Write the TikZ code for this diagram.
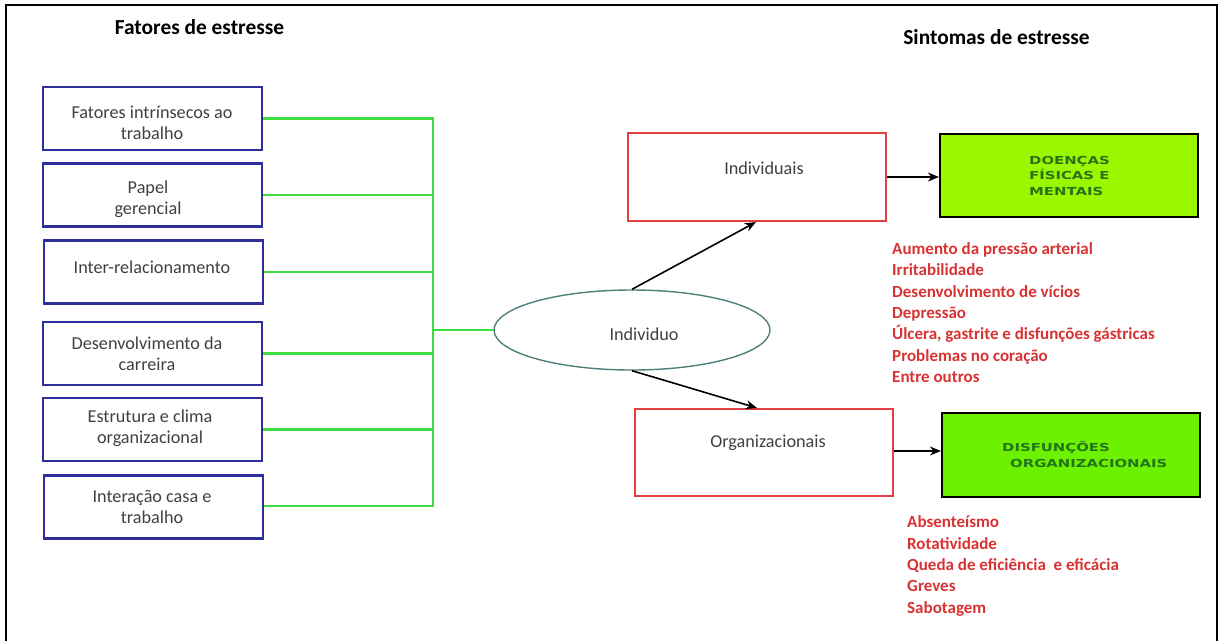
\documentclass[tikz,border=0pt]{standalone}
\usepackage{fontspec}
\setmainfont{Carlito}
\newfontfamily\djb[FakeStretch=1.35]{DejaVu Sans Bold}
\usetikzlibrary{arrows.meta,shapes.geometric,calc}
\definecolor{bluebox}{HTML}{2E2E9E}
\definecolor{linkgreen}{HTML}{3EDC3E}
\definecolor{redbox}{HTML}{E04040}
\definecolor{redtxt}{HTML}{D93232}
\definecolor{limeA}{HTML}{9AF700}
\definecolor{limeB}{HTML}{6CF200}
\definecolor{dkgreen}{HTML}{267318}
\definecolor{ellc}{HTML}{4F7F7C}
\definecolor{boxtxt}{HTML}{404040}
\begin{document}
\begin{tikzpicture}[x=1pt,y=-1pt,
  factor/.style={draw=bluebox,line width=2.6pt,minimum width=219pt,minimum height=63pt,inner sep=0pt},
  btext/.style={font=\fontsize{18.2}{21}\selectfont,text=boxtxt,align=center,inner sep=0pt},
  link/.style={draw=linkgreen,line width=2.6pt},
  redb/.style={draw=redbox,line width=2.2pt,inner sep=0pt},
  greenb/.style={draw=black,line width=2.2pt,inner sep=0pt},
  gtext/.style={font=\djb\fontsize{11}{15.5}\selectfont,text=dkgreen,align=left,inner sep=0pt},
  rlist/.style={font=\bfseries\fontsize{17}{21.4}\selectfont,text=redtxt,align=left,inner sep=0pt},
  title/.style={font=\bfseries\fontsize{21.4}{24}\selectfont,inner sep=0pt},
  arr/.style={draw=black,line width=1.6pt,-{Stealth[length=11pt,width=9pt]}}]
\useasboundingbox (0,0) rectangle (1219,641);
% frame (no bottom edge)
\draw[line width=2pt] (6,641) -- (6,5) -- (1217,5) -- (1217,641);
% titles
\node[title] (t1) at (199.5,27) {Fatores de estresse};
\node[title] (t2) at (996.5,37) {Sintomas de estresse};
% factor boxes
\node[factor] (f1) at (152.5,118.5) {};
\node[factor] (f2) at (152.5,195) {};
\node[factor] (f3) at (153.5,272) {};
\node[factor] (f4) at (152.5,353.5) {};
\node[factor] (f5) at (152.5,429.5) {};
\node[factor] (f6) at (153.5,507) {};
\node[btext] at (152,122.5) {Fatores intrínsecos ao\\trabalho};
\node[btext] at (148,199) {Papel\\gerencial};
\node[btext] at (152,267) {Inter-relacionamento};
\node[btext] at (147,354) {Desenvolvimento da\\carreira};
\node[btext] at (150,428.5) {Estrutura e clima\\organizacional};
\node[btext] at (152,506.5) {Interação casa e\\trabalho};
% ellipse
\node[ellipse,draw=ellc,line width=1.4pt,minimum width=276pt,minimum height=80pt,inner sep=0pt] (ind) at (632,330) {};
\node[btext] at (644,334) {Individuo};
% green connectors
\coordinate (trunkTop) at (433,118.5);
\coordinate (trunkBot) at (433,506);
\draw[link] (f1.east) -- (trunkTop) -- (trunkBot) -- (f6.east |- trunkBot);
\draw[link] (f2.east) -- (f2.east -| trunkTop);
\draw[link] (f3.east) -- (f3.east -| trunkTop);
\draw[link] (f4.east) -- (f4.east -| trunkTop);
\draw[link] (f5.east) -- (f5.east -| trunkTop);
\draw[link] (ind.west) -- (ind.west -| trunkTop);
% red boxes
\node[redb,minimum width=258pt,minimum height=88pt] (indiv) at (757,177) {};
\node[btext] at (764,168) {Individuais};
\node[redb,minimum width=258pt,minimum height=87pt] (org) at (764,452.5) {};
\node[btext] at (768,443) {Organizacionais};
% green boxes
\node[greenb,fill=limeA,minimum width=258pt,minimum height=83pt] (doen) at (1069,175.5) {};
\node[gtext,anchor=west] at (1029,175.5) {DOENÇAS\\FÍSICAS E\\MENTAIS};
\node[greenb,fill=limeB,minimum width=258pt,minimum height=84pt] (disf) at (1071,455) {};
\node[gtext,anchor=west] at (1002,447) {DISFUNÇÕES};
\node[gtext,anchor=west] at (1010,463) {ORGANIZACIONAIS};
% arrows
\coordinate (orgE) at ([yshift=1.5pt]org.east);
\draw[arr] (ind.north) -- ([xshift=129pt]indiv.south west);
\draw[arr] (ind.south) -- ([xshift=123pt]org.north west);
\draw[arr] (indiv.east) -- (doen.west |- indiv.east);
\draw[arr] (orgE) -- (disf.west |- orgE);
% red lists
\node[rlist,anchor=west] (l1) at (892,312.5) {Aumento da pressão arterial\\Irritabilidade\\Desenvolvimento de vícios\\Depressão\\Úlcera,\ gastrite e disfunções\ gástricas\\Problemas no coração\\Entre outros};
\node[rlist,anchor=west] (l2) at (907,566) {Absenteísmo\\Rotatividade\\Queda de eficiência\ \ e eficácia\\Greves\\Sabotagem};
\end{tikzpicture}
\end{document}
